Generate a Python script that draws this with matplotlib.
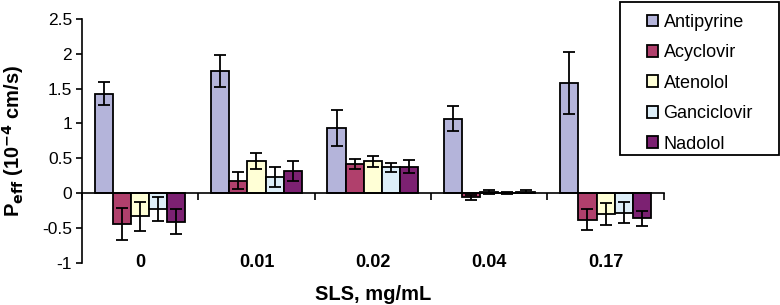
import matplotlib
matplotlib.use("Agg")
import matplotlib.pyplot as plt
from matplotlib.patches import Rectangle
from matplotlib.legend_handler import HandlerPatch
import numpy as np

plt.rcParams["font.family"] = ["Liberation Sans", "DejaVu Sans"]

categories = ["0", "0.01", "0.02", "0.04", "0.17"]
drugs = ["Antipyrine", "Acyclovir", "Atenolol", "Ganciclovir", "Nadolol"]

antipyrine = [1.43, 1.75, 0.93, 1.07, 1.58]
acyclovir = [-0.44, 0.18, 0.42, -0.06, -0.38]
atenolol = [-0.33, 0.46, 0.46, 0.02, -0.30]
ganciclovir = [-0.23, 0.23, 0.37, 0.00, -0.28]
nadolol = [-0.41, 0.32, 0.38, 0.02, -0.36]

antipyrine_err = [0.17, 0.23, 0.26, 0.18, 0.45]
acyclovir_err = [0.23, 0.12, 0.07, 0.04, 0.15]
atenolol_err = [0.21, 0.12, 0.08, 0.03, 0.16]
ganciclovir_err = [0.17, 0.14, 0.06, 0.01, 0.15]
nadolol_err = [0.18, 0.14, 0.09, 0.02, 0.11]

values = [antipyrine, acyclovir, atenolol, ganciclovir, nadolol]
errors = [antipyrine_err, acyclovir_err, atenolol_err, ganciclovir_err, nadolol_err]
colors = ["#B4B4DA", "#B0406C", "#FFFFD6", "#DDEEF8", "#7C2172"]


def square_patch(legend, orig_handle, xdescent, ydescent, width, height, fontsize):
    # small square legend key instead of a wide bar
    return Rectangle((-xdescent, -ydescent), height, height)


fig = plt.figure(figsize=(7.8, 3.05), dpi=100)
ax = fig.add_axes([0.105, 0.138, 0.746, 0.800])

x = np.arange(len(categories))
w = 0.156
for i, (vals, errs) in enumerate(zip(values, errors)):
    ax.bar(x + (i - 2) * w, vals, w, yerr=errs, color=colors[i],
           edgecolor="black", linewidth=1.3, label=drugs[i],
           error_kw=dict(ecolor="black", elinewidth=1.3, capsize=4, capthick=1.3))

ax.set_xlim(-0.5, len(categories) - 0.5)
ax.set_ylim(-1, 2.5)
ax.set_yticks(np.arange(-1, 2.51, 0.5))
ax.set_yticklabels(["-1", "-0.5", "0", "0.5", "1", "1.5", "2", "2.5"])
ax.tick_params(axis="y", labelsize=12.5, length=4, width=1.2, direction="out", pad=3)

ax.spines["top"].set_visible(False)
ax.spines["right"].set_visible(False)
ax.spines["left"].set_linewidth(1.2)
ax.spines["bottom"].set_position(("data", 0))
ax.spines["bottom"].set_linewidth(1.2)
ax.set_xticks(np.arange(len(categories) + 1) - 0.5)
ax.set_xticklabels([])
ax.tick_params(axis="x", length=5, width=1.2, direction="out")

# category labels sit at the bottom of the plot, not on the zero line
for xi, c in zip(x, categories):
    ax.text(xi, -1.0, c, ha="center", va="center", fontsize=13, fontweight="bold")

ax.text(0.5, -0.13, "SLS, mg/mL", transform=ax.transAxes, ha="center", va="center",
        fontsize=14.5, fontweight="bold")
ax.text(-0.1186, 0.5, r"P$_{\mathbf{eff}}$ (10$^{\mathbf{-4}}$ cm/s)", transform=ax.transAxes,
        rotation=90, ha="center", va="center", fontsize=14.5, fontweight="bold")

handles, labels = ax.get_legend_handles_labels()
leg = fig.legend(handles, labels, loc="upper left", bbox_to_anchor=(0.8295, 0.955),
                 fontsize=13, frameon=False, handlelength=0.62, handleheight=0.62,
                 handletextpad=0.3, labelspacing=0.745, borderpad=0, borderaxespad=0,
                 handler_map={Rectangle: HandlerPatch(patch_func=square_patch)})
fig.patches.append(Rectangle((620 / 780, 1 - 155 / 305), 159 / 780, 153 / 305,
                             transform=fig.transFigure, fill=False,
                             edgecolor="black", linewidth=1.3))

fig.savefig("out.png", dpi=100)
